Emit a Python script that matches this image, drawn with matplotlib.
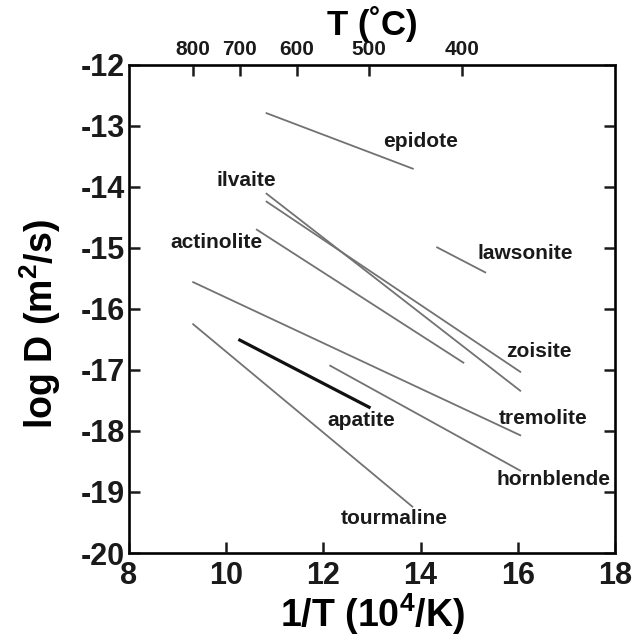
import matplotlib
matplotlib.use("Agg")
import matplotlib.pyplot as plt

plt.rcParams['font.family'] = ['Liberation Sans', 'DejaVu Sans']
plt.rcParams['font.weight'] = 'bold'
plt.rcParams['mathtext.fontset'] = 'custom'
plt.rcParams['mathtext.rm'] = 'Liberation Sans:bold'
plt.rcParams['mathtext.default'] = 'rm'
plt.rcParams['axes.unicode_minus'] = False

# diffusion lines: 1/T (10^4/K) and log D at both ends
minerals = ['epidote', 'ilvaite', 'zoisite', 'actinolite', 'lawsonite',
            'tremolite', 'hornblende', 'tourmaline', 'apatite']
x0 = [10.83, 10.83, 10.83, 10.63, 14.34, 9.32, 12.14, 9.32, 10.28]
x1 = [13.84, 16.05, 16.05, 14.88, 15.33, 16.05, 16.05, 13.83, 12.94]
y0 = [-12.79, -14.11, -14.24, -14.70, -14.99, -15.56, -16.93, -16.25, -16.51]
y1 = [-13.70, -17.34, -17.03, -16.88, -15.40, -18.07, -18.65, -19.24, -17.61]

# label anchor points (data coords)
lab_x = [13.99, 10.42, 16.44, 9.80, 16.16, 16.52, 16.73, 13.45, 12.77]
lab_y = [-13.26, -13.89, -16.70, -14.91, -15.09, -17.79, -18.79, -19.43, -17.83]

temps_c = [800, 700, 600, 500, 400]

fig = plt.figure(figsize=(6.38, 6.44), dpi=100)
ax = fig.add_axes([0.2022, 0.1413, 0.7618, 0.7578])

for i, name in enumerate(minerals):
    if name == 'apatite':
        ax.plot([x0[i], x1[i]], [y0[i], y1[i]], color='#111111', lw=2.3)
    else:
        ax.plot([x0[i], x1[i]], [y0[i], y1[i]], color='#727272', lw=1.3)
    ax.text(lab_x[i], lab_y[i], name, fontsize=15, fontweight='bold',
            ha='center', va='center', color='#1a1a1a')

ax.set_xlim(8, 18)
ax.set_ylim(-20, -12)
ax.set_xticks([8, 10, 12, 14, 16, 18])
ax.set_yticks(range(-20, -11))
ax.tick_params(direction='in', length=8, width=1.8, labelsize=22,
               right=True, top=False, colors='#1a1a1a', pad=3)
ax.tick_params(axis='x', pad=6)
for s in ax.spines.values():
    s.set_linewidth(2.0)
    s.set_color('#1a1a1a')
ax.set_xlabel('1/T (10$^4$/K)', fontsize=27, fontweight='bold', labelpad=0)
ax.set_ylabel('log D (m$^2$/s)', fontsize=27, fontweight='bold')
ax.yaxis.set_label_coords(-0.135, 0.47)

top = ax.twiny()
top.set_xlim(8, 18)
top.set_xticks([1e4 / (t + 273) for t in temps_c])
top.set_xticklabels([str(t) for t in temps_c])
top.tick_params(direction='in', length=8, width=1.8, labelsize=15,
                colors='#1a1a1a', pad=4)
top.set_xlabel('T (˚C)', fontsize=25, fontweight='bold', labelpad=4)

fig.savefig('out.png', dpi=100)
